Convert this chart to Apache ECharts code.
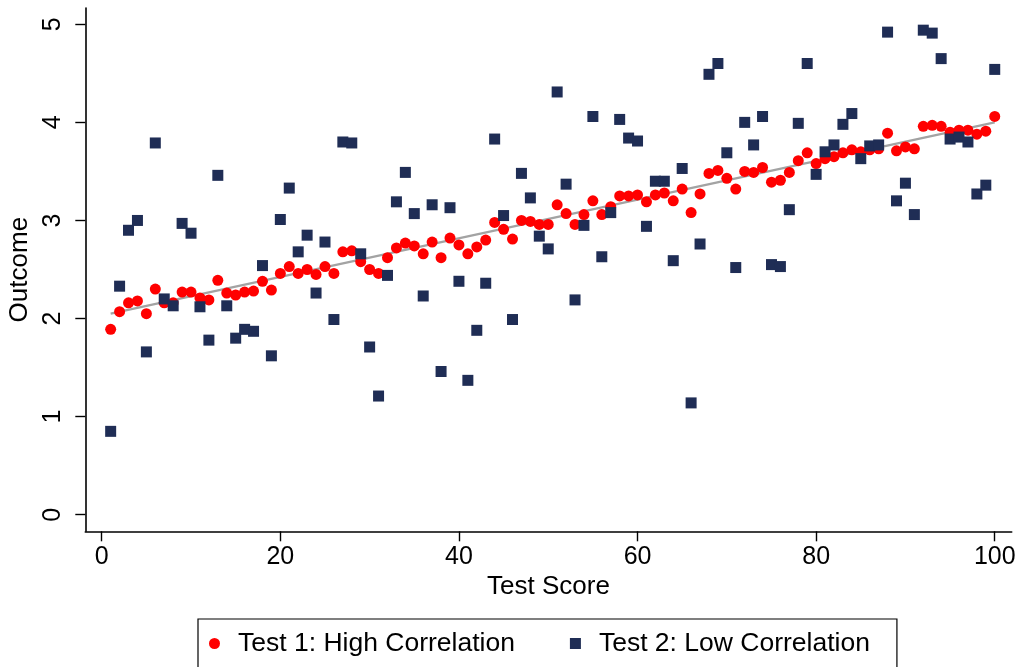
<!DOCTYPE html>
<html>
<head>
<meta charset="utf-8">
<script src="https://cdn.jsdelivr.net/npm/echarts@6/dist/echarts.min.js"></script>
<style>
html,body{margin:0;padding:0;background:#fff;}
#chart{width:1020px;height:667px;}
</style>
</head>
<body>
<div id="chart"></div>
<script>
const testScores = [1,2,3,4,5,6,7,8,9,10,11,12,13,14,15,16,17,18,19,20,21,22,23,24,25,26,27,28,29,30,31,32,33,34,35,36,37,38,39,40,41,42,43,44,45,46,47,48,49,50,51,52,53,54,55,56,57,58,59,60,61,62,63,64,65,66,67,68,69,70,71,72,73,74,75,76,77,78,79,80,81,82,83,84,85,86,87,88,89,90,91,92,93,94,95,96,97,98,99,100];

const highCorr = [1.89,2.07,2.16,2.18,2.05,2.30,2.16,2.16,2.27,2.27,
2.21,2.19,2.39,2.26,2.24,2.27,2.28,2.38,2.29,2.46,
2.53,2.46,2.50,2.45,2.53,2.46,2.68,2.69,2.58,2.50,
2.46,2.62,2.72,2.77,2.74,2.66,2.78,2.62,2.82,2.75,
2.66,2.73,2.80,2.98,2.91,2.81,3.00,2.99,2.96,2.96,
3.16,3.07,2.96,3.06,3.20,3.06,3.14,3.25,3.25,3.26,
3.19,3.26,3.28,3.20,3.32,3.08,3.27,3.48,3.51,3.43,
3.32,3.50,3.49,3.54,3.39,3.41,3.49,3.61,3.69,3.58,
3.63,3.65,3.69,3.72,3.70,3.72,3.73,3.89,3.71,3.75,
3.73,3.96,3.97,3.96,3.90,3.92,3.92,3.88,3.91,4.06];

const lowCorr = [0.85,2.33,2.90,3.00,1.66,3.79,2.20,2.13,2.97,2.87,
2.12,1.78,3.46,2.13,1.80,1.89,1.87,2.54,1.62,3.01,
3.33,2.68,2.85,2.26,2.78,1.99,3.80,3.79,2.66,1.71,
1.21,2.44,3.19,3.49,3.07,2.23,3.16,1.46,3.13,2.38,
1.37,1.88,2.36,3.83,3.05,1.99,3.48,3.23,2.84,2.71,
4.31,3.37,2.19,2.95,4.06,2.63,3.08,4.03,3.84,3.81,
2.94,3.40,3.40,2.59,3.53,1.14,2.76,4.49,4.60,3.69,
2.52,4.00,3.77,4.06,2.55,2.53,3.11,3.99,4.60,3.47,
3.70,3.77,3.98,4.09,3.63,3.76,3.77,4.92,3.20,3.38,
3.06,4.94,4.91,4.65,3.83,3.85,3.80,3.27,3.36,4.54];

const fitLine = [[1, 2.05], [100, 4.00]];

const xTicks = [0, 20, 40, 60, 80, 100];
const yTicks = [0, 1, 2, 3, 4, 5];

const seriesNames = ['Test 1: High Correlation', 'Test 2: Low Correlation'];

const FONT = '"Liberation Sans", Helvetica, Arial, sans-serif';

const chart = echarts.init(document.getElementById('chart'), null, {renderer: 'canvas'});

const highData = testScores.map((x, i) => [x, highCorr[i]]);
const lowData = testScores.map((x, i) => [x, lowCorr[i]]);

const axisCommon = {
  axisLine: {show: true, onZero: false, lineStyle: {color: '#000', width: 1.6}},
  axisTick: {show: true, length: 10, lineStyle: {color: '#000', width: 1.4}},
  splitLine: {show: false}
};

chart.setOption({
  backgroundColor: '#fff',
  animation: false,
  grid: {left: 85.3, right: 8.3, top: 8, bottom: 135.7, containLabel: false, outerBoundsMode: 'none'},
  legend: {
    data: [
      {name: seriesNames[0], icon: 'circle'},
      {name: seriesNames[1], icon: 'path://M0,0L10,0L10,10L0,10Z'}
    ],
    left: 198, top: 619,
    orient: 'horizontal',
    itemWidth: 21, itemHeight: 11,
    itemGap: 55,
    symbolKeepAspect: true,
    padding: [11, 27, 14, 11],
    borderColor: '#000', borderWidth: 1.2,
    backgroundColor: '#fff',
    textStyle: {fontFamily: FONT, fontSize: 26.5, color: '#000', padding: [0, 0, 0, 8]},
    selectedMode: false
  },
  xAxis: Object.assign({}, axisCommon, {
    type: 'value', min: -1.84, max: 101.9,
    axisTick: Object.assign({}, axisCommon.axisTick, {customValues: xTicks}),
    axisLabel: {customValues: xTicks, margin: 13, fontFamily: FONT, fontSize: 25, color: '#000'},
    name: 'Test Score', nameLocation: 'middle', nameGap: 42,
    nameTextStyle: {fontFamily: FONT, fontSize: 26, color: '#000'}
  }),
  yAxis: Object.assign({}, axisCommon, {
    type: 'value', min: -0.169, max: 5.166,
    axisTick: Object.assign({}, axisCommon.axisTick, {customValues: yTicks}),
    axisLabel: {customValues: yTicks, rotate: 90, margin: 20, fontFamily: FONT, fontSize: 25, color: '#000'},
    name: 'Outcome', nameLocation: 'middle', nameGap: 46, nameRotate: 90,
    nameTextStyle: {fontFamily: FONT, fontSize: 26, color: '#000'}
  }),
  series: [
    {
      name: 'fit', type: 'line', data: fitLine, symbol: 'none', silent: true, z: 1,
      lineStyle: {color: '#a3a3a3', width: 2.2}
    },
    {
      name: seriesNames[0], type: 'scatter', data: highData, symbol: 'circle', symbolSize: 11, z: 2,
      itemStyle: {color: '#ff0000', opacity: 1}
    },
    {
      name: seriesNames[1], type: 'scatter', data: lowData, symbol: 'rect', symbolSize: 11, z: 3,
      itemStyle: {color: '#1f2d55', opacity: 1}
    }
  ]
});
</script>
</body>
</html>
